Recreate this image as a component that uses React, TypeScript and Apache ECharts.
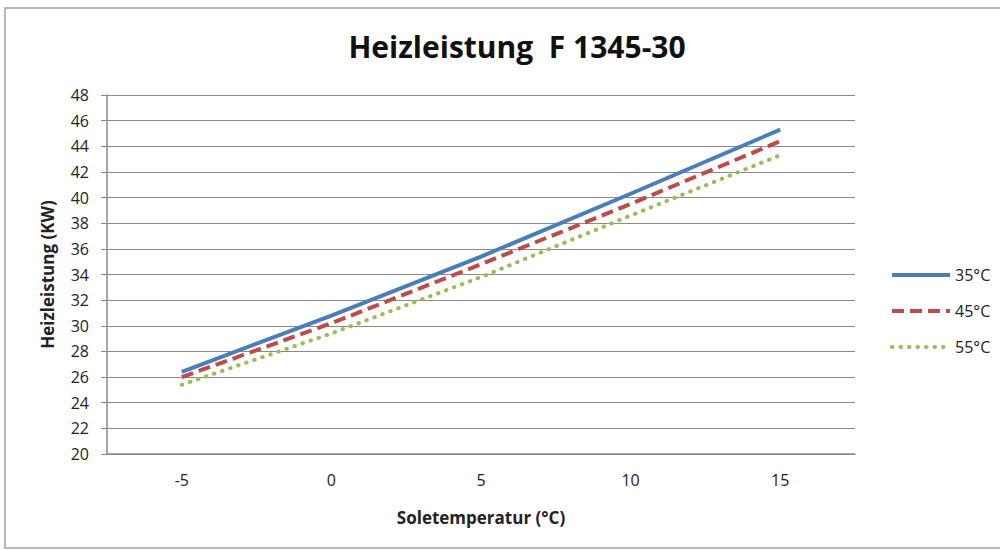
import React, { useEffect, useRef } from "react";
import * as echarts from "echarts";

const categories = ["-5", "0", "5", "10", "15"];
const s35 = [26.4, 30.8, 35.4, 40.3, 45.3];
const s45 = [26.0, 30.2, 34.8, 39.5, 44.4];
const s55 = [25.4, 29.4, 33.8, 38.6, 43.3];
const seriesNames = ["35°C", "45°C", "55°C"];

const FONT = "'Open Sans', 'Noto Sans', sans-serif";

export default function App() {
  const ref = useRef<HTMLDivElement>(null);
  useEffect(() => {
    if (!ref.current) return;
    const chart = echarts.init(ref.current, undefined, { renderer: "svg" });
    const mk = (name: string, data: number[], color: string, type: any, cap: string) => ({
      name,
      type: "line",
      data,
      symbol: "none",
      lineStyle: { color, width: 4, type, cap },
      itemStyle: { color },
    });
    chart.setOption({
      animation: false,
      backgroundColor: "#ffffff",
      textStyle: { fontFamily: FONT },
      title: {
        text: "Heizleistung  F 1345-30",
        left: 512,
        top: 26,
        textAlign: "center",
        textStyle: { fontSize: 30, fontWeight: "bold", color: "#111", fontFamily: FONT },
      },
      graphic: [
        {
          type: "rect",
          shape: { x: 5, y: 8, width: 1000, height: 540 },
          style: { fill: "none", stroke: "#a0a0a0", lineWidth: 1.5 },
          silent: true,
        },
      ],
      legend: {
        orient: "vertical",
        left: 885,
        top: 262,
        itemWidth: 58,
        itemHeight: 14,
        itemGap: 20,
        data: seriesNames,
        itemStyle: { opacity: 0 },
        lineStyle: { width: 4, inactiveWidth: 4 },
        textStyle: { fontSize: 16, color: "#222", fontFamily: FONT },
      },
      grid: { left: 107, right: 145, top: 95, bottom: 96, containLabel: false },
      xAxis: {
        type: "category",
        data: categories,
        boundaryGap: true,
        name: "Soletemperatur (°C)",
        nameLocation: "middle",
        nameGap: 55,
        nameTextStyle: { fontSize: 17, fontWeight: "bold", color: "#222" },
        axisLine: { lineStyle: { color: "#8a8a8a", width: 1.5 } },
        axisTick: { show: false },
        axisLabel: { fontSize: 16, color: "#222", margin: 18 },
      },
      yAxis: {
        type: "value",
        min: 20,
        max: 48,
        interval: 2,
        name: "Heizleistung (KW)",
        nameLocation: "middle",
        nameGap: 51,
        nameRotate: 90,
        nameTextStyle: { fontSize: 17, fontWeight: "bold", color: "#222" },
        axisLine: { show: true, lineStyle: { color: "#8a8a8a", width: 1.5 } },
        axisTick: { show: true, length: 6, lineStyle: { color: "#8a8a8a" } },
        axisLabel: { fontSize: 16, color: "#222", margin: 18 },
        splitLine: { lineStyle: { color: "#8a8a8a", width: 1.2 } },
      },
      series: [
        mk(seriesNames[0], s35, "#4a7ebb", "solid", "butt"),
        mk(seriesNames[1], s45, "#be4b48", [12, 6], "butt"),
        mk(seriesNames[2], s55, "#9bbb59", [0.5, 8], "round"),
      ],
    });
    return () => chart.dispose();
  }, []);
  return (
    <div
      ref={ref}
      style={{ width: 1000, height: 550, position: "fixed", left: 0, top: 0 }}
    />
  );
}
